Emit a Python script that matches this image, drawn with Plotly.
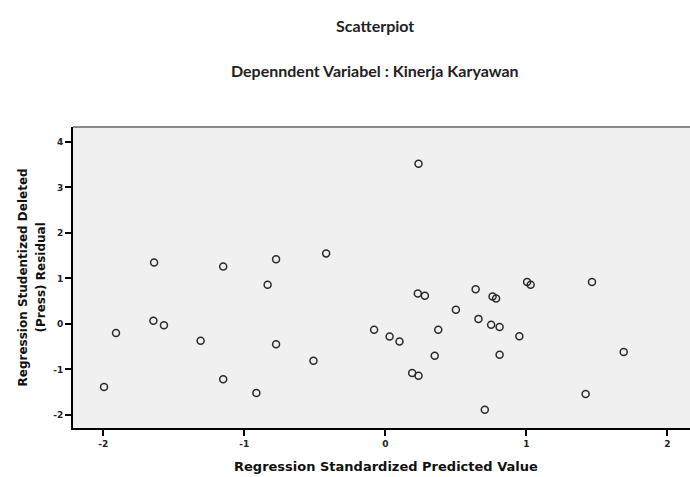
import plotly.graph_objects as go

# Regression standardized predicted value (x) and studentized deleted residual (y)
pred_values = [-1.995, -1.91, -1.64, -1.645, -1.57, -1.31, -1.15, -1.15, -0.915, -0.835,
               -0.775, -0.775, -0.51, -0.42, -0.08, 0.03, 0.10, 0.19, 0.235, 0.235,
               0.23, 0.28, 0.35, 0.375, 0.50, 0.64, 0.66, 0.705, 0.76, 0.785,
               0.75, 0.81, 0.81, 0.95, 1.005, 1.03, 1.42, 1.465, 1.69]
resid_values = [-1.39, -0.20, 1.35, 0.07, -0.03, -0.37, 1.26, -1.22, -1.52, 0.86,
                1.42, -0.45, -0.81, 1.55, -0.13, -0.28, -0.39, -1.08, -1.14, 3.52,
                0.67, 0.62, -0.70, -0.13, 0.31, 0.76, 0.11, -1.89, 0.60, 0.56,
                -0.02, -0.07, -0.68, -0.27, 0.92, 0.86, -1.54, 0.92, -0.62]

x_ticks = [-2, -1, 0, 1, 2]
y_ticks = [-2, -1, 0, 1, 2, 3, 4]

title_text = "Scatterpiot"
subtitle_text = "Depenndent Variabel : Kinerja Karyawan"
x_title = "Regression Standardized Predicted Value"
y_title_lines = ["Regression Studentized Deleted", "(Press) Residual"]

fig = go.Figure()
fig.add_trace(go.Scatter(
    x=pred_values, y=resid_values, mode="markers",
    marker=dict(symbol="circle-open", size=7, color="#2a2a2a", line=dict(width=1.5)),
    showlegend=False, hoverinfo="x+y",
))

axis_font = dict(family="DejaVu Sans, sans-serif", size=9, color="#222222", weight="bold")

fig.update_layout(
    width=690, height=477,
    margin=dict(l=73, r=0, t=127, b=49),
    paper_bgcolor="white",
    plot_bgcolor="#f0f0f0",
    xaxis=dict(range=[-2.215, 2.16], tickvals=x_ticks, ticktext=[str(v) for v in x_ticks],
               showgrid=False, zeroline=False, showline=True, linecolor="black", linewidth=2,
               ticks="outside", ticklen=6, tickwidth=1.5, tickcolor="black",
               tickfont=axis_font, fixedrange=True),
    yaxis=dict(range=[-2.29, 4.33], tickvals=y_ticks, ticktext=[str(v) for v in y_ticks],
               showgrid=False, zeroline=False, showline=True, linecolor="black", linewidth=2,
               ticks="outside", ticklen=6, tickwidth=1.5, tickcolor="black",
               tickfont=axis_font, fixedrange=True),
)

# grey top border of plot frame
fig.add_shape(type="line", xref="paper", yref="paper", x0=0, x1=1, y0=1, y1=1,
              line=dict(color="#8a8a8a", width=2))

title_font = dict(family="Lato, Open Sans, sans-serif", size=16, color="#222222")
fig.add_annotation(text="<b>" + title_text + "</b>", xref="paper", yref="paper",
                   x=0.489, y=(428 - 26) / 301, showarrow=False, font=title_font,
                   xanchor="center", yanchor="middle")
fig.add_annotation(text="<b>" + subtitle_text + "</b>", xref="paper", yref="paper",
                   x=0.489, y=(428 - 71) / 301, showarrow=False, font=title_font,
                   xanchor="center", yanchor="middle")

xlab_font = dict(family="DejaVu Sans, sans-serif", size=13, color="#111111")
ylab_font = dict(family="DejaVu Sans, sans-serif", size=12, color="#111111")
fig.add_annotation(text="<b>" + x_title + "</b>", xref="paper", yref="paper",
                   x=(386 - 73) / 617, y=(428 - 466) / 301, showarrow=False, font=xlab_font,
                   xanchor="center", yanchor="middle")
for i, line in enumerate(y_title_lines):
    px = 22 + i * 18
    fig.add_annotation(text="<b>" + line + "</b>", xref="paper", yref="paper",
                       x=(px - 73) / 617, y=0.5, showarrow=False, font=ylab_font,
                       textangle=-90, xanchor="center", yanchor="middle")

fig.write_html("out.html", config={"displayModeBar": False},
               post_script="document.body.style.margin='0';")
